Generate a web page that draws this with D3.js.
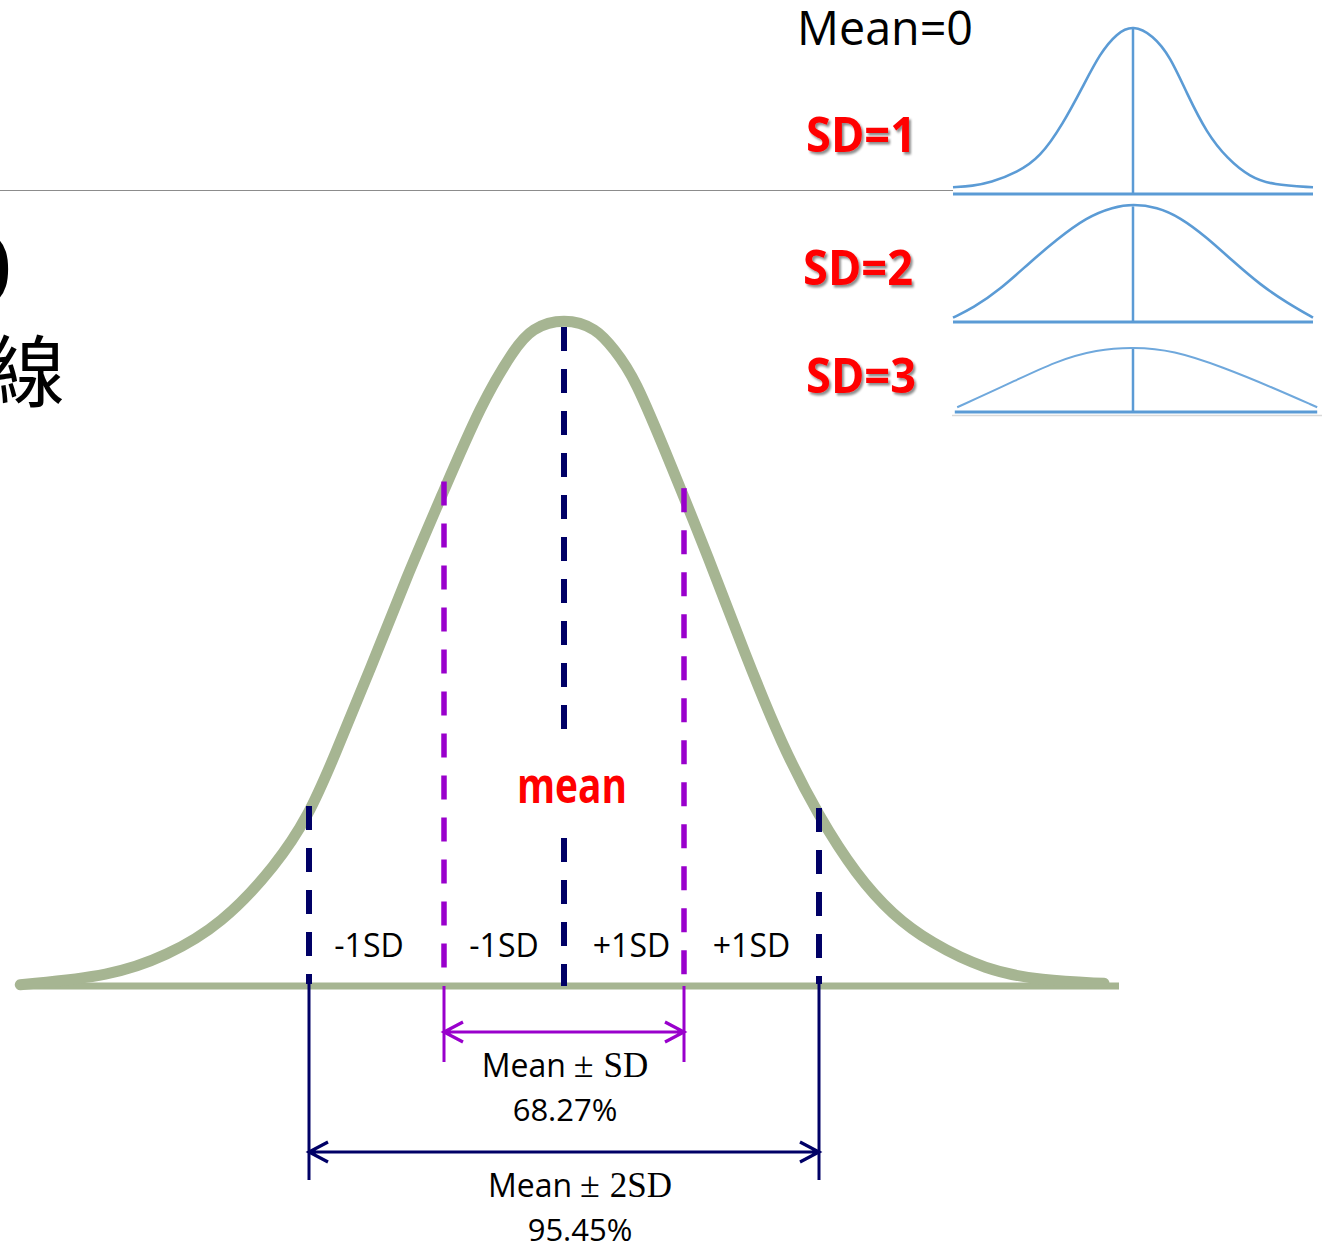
<!DOCTYPE html>
<html>
<head>
<meta charset="utf-8">
<script src="https://cdn.jsdelivr.net/npm/d3@7"></script>
<style>
  body { margin: 0; background: #fff; }
  svg { display: block; }
</style>
</head>
<body>
<div class="container"></div>
<script>
// big bell curve (z in curve units, h relative to the peak)
var mainZ = [-4.35, -3.62, -3.18, -2.74, -2.30, -2.04, -1.85, -1.55, -1.26, -0.98, -0.66, -0.40, -0.26, 0,
             0.26, 0.40, 0.56, 0.86, 1.15, 1.45, 1.74, 2.04, 2.34, 2.63, 2.93, 3.37, 3.82, 4.32];
var mainH = [0.002, 0.015, 0.045, 0.092, 0.181, 0.256, 0.338, 0.474, 0.612, 0.733, 0.873, 0.953, 0.985, 1.0,
             0.985, 0.953, 0.914, 0.778, 0.644, 0.496, 0.362, 0.253, 0.166, 0.106, 0.065, 0.024, 0.008, 0.004];

// guide lines (mean, +-1SD, +-2SD) and their labels
var guideZ = [-2.04, -0.96, 0, 0.96, 2.04];
var bandLabels = ["-1SD", "-1SD", "+1SD", "+1SD"];
var bandLabelZ = [-1.56, -0.48, 0.54, 1.5];
var meanLabel = "mean";
var rangeHalf = [0.96, 2.04];
var rangeSD = ["SD", "2SD"];
var rangePct = ["68.27%", "95.45%"];

// the three small curves top right
var headLabel = "Mean=0";
var sdLabels = ["SD=1", "SD=2", "SD=3"];
var sd1Z = [-3, -2.67, -2.38, -1.93, -1.55, -1.17, -0.83, -0.55, -0.27, 0, 0.33, 0.62, 0.9, 1.23, 1.57, 1.95, 2.33, 3];
var sd1H = [0.04, 0.048, 0.066, 0.128, 0.216, 0.413, 0.64, 0.832, 0.952, 1, 0.94, 0.814, 0.593, 0.36, 0.21, 0.10, 0.054, 0.04];
var sd2Z = [-3, -2.67, -2.22, -1.72, -1.27, -0.77, -0.33, 0, 0.4, 0.78, 1.23, 1.67, 2.12, 2.57, 3];
var sd2H = [0.037, 0.117, 0.274, 0.504, 0.70, 0.889, 0.974, 1, 0.974, 0.889, 0.718, 0.513, 0.316, 0.162, 0.037];
var sd3Z = [-2.93, -2.1, -1.27, -0.6, 0, 0.67, 1.5, 2.33, 3.07];
var sd3H = [0.073, 0.42, 0.79, 0.96, 1, 0.95, 0.69, 0.375, 0.073];

const WIDTH = 1326;
const HEIGHT = 1244;
const GREEN = "#a6b592";
const NAVY = "#000066";
const PURPLE = "#9900cc";
const BLUE = "#5b9bd5";
const RED = "#ff0000";
const SANS = "'Open Sans', 'Noto Sans', sans-serif";
const SERIF = "'Liberation Serif', 'DejaVu Serif', serif";

var svg = d3.select('.container').append('svg')
  .attr('width', WIDTH)
  .attr('height', HEIGHT);

var shadow = svg.append('defs').append('filter')
  .attr('id', 'shadow')
  .attr('x', '-10%').attr('y', '-20%')
  .attr('width', '130%').attr('height', '150%');
shadow.append('feDropShadow')
  .attr('dx', 2).attr('dy', 2.5)
  .attr('stdDeviation', 1.3)
  .attr('flood-color', '#000')
  .attr('flood-opacity', 0.45);

// slide leftovers on the left
svg.append('line')
  .attr('x1', 0).attr('x2', 953)
  .attr('y1', 190.5).attr('y2', 190.5)
  .attr('stroke', '#8c8c8c')
  .attr('stroke-width', 1.2);

svg.append('text')
  .attr('x', 12).attr('y', 290)
  .attr('text-anchor', 'end')
  .style('font-family', SERIF)
  .style('font-weight', 'bold')
  .style('font-size', '86px')
  .text(')');

svg.append('text')
  .attr('x', -13).attr('y', 401)
  .style('font-family', "'Noto Sans CJK TC', sans-serif")
  .style('font-size', '78px')
  .text('線');

// ---------- big curve ----------
var xScale = d3.scaleLinear().domain([-4.4, 4.4]).range([14, 1114]);
var yScale = d3.scaleLinear().domain([0, 1]).range([986, 318]);
var heightAt = d3.scaleLinear().domain(mainZ).range(mainH);
var BASE = yScale(0);

svg.append('line')
  .attr('x1', xScale(-4.35)).attr('x2', xScale(4.44))
  .attr('y1', BASE).attr('y2', BASE)
  .attr('stroke', GREEN)
  .attr('stroke-width', 7);

var line = d3.line()
  .x(function (d) { return xScale(d[0]); })
  .y(function (d) { return yScale(d[1]); })
  .curve(d3.curveBasis);

svg.append('path')
  .attr('d', line(d3.zip(mainZ, mainH)))
  .attr('fill', 'none')
  .attr('stroke', GREEN)
  .attr('stroke-width', 11)
  .attr('stroke-linecap', 'round');

var dashed = function (x, y1, y2, color, w) {
  svg.append('line')
    .attr('x1', x).attr('x2', x)
    .attr('y1', y1).attr('y2', y2)
    .attr('stroke', color)
    .attr('stroke-width', w)
    .attr('stroke-dasharray', '24,18');
};

guideZ.forEach(function (z) {
  var x = xScale(z);
  if (z === 0) {
    dashed(x, 327, 735, NAVY, 6);
    dashed(x, 838, BASE, NAVY, 6);
    return;
  }
  var inner = Math.abs(z) < 1.5;
  var color = inner ? PURPLE : NAVY;
  dashed(x, yScale(heightAt(z)) - 9, BASE - 2, color, inner ? 5.5 : 6);
  svg.append('line')
    .attr('x1', x).attr('x2', x)
    .attr('y1', inner ? BASE : BASE - 8)
    .attr('y2', inner ? 1062 : 1180)
    .attr('stroke', color)
    .attr('stroke-width', 3);
});

svg.selectAll('.band').data(bandLabels)
  .enter().append('text')
  .classed('band', true)
  .attr('x', function (d, i) { return xScale(bandLabelZ[i]); })
  .attr('y', 957)
  .attr('text-anchor', 'middle')
  .style('font-family', SANS)
  .style('font-size', '32px')
  .text(function (d) { return d; });

svg.append('text')
  .attr('x', xScale(0) + 8).attr('y', 803)
  .attr('text-anchor', 'middle')
  .attr('textLength', 110)
  .attr('lengthAdjust', 'spacingAndGlyphs')
  .style('font-family', SANS)
  .style('font-weight', 'bold')
  .style('font-size', '48px')
  .attr('fill', RED)
  .text(meanLabel);

// range arrows + their captions
var rangeLayout = [
  { y: 1032, color: PURPLE, cx: 565, t1: 1077, t2: 1121 },
  { y: 1152, color: NAVY, cx: 580, t1: 1197, t2: 1241 }
];

rangeHalf.forEach(function (h, i) {
  var L = rangeLayout[i];
  var x1 = xScale(-h), x2 = xScale(h);
  svg.append('path')
    .attr('d', 'M' + x1 + ',' + L.y + 'H' + x2 +
      'M' + (x1 + 19) + ',' + (L.y - 10) + 'L' + x1 + ',' + L.y + 'L' + (x1 + 19) + ',' + (L.y + 10) +
      'M' + (x2 - 19) + ',' + (L.y - 10) + 'L' + x2 + ',' + L.y + 'L' + (x2 - 19) + ',' + (L.y + 10))
    .attr('fill', 'none')
    .attr('stroke', L.color)
    .attr('stroke-width', 3.2);

  var t = svg.append('text')
    .attr('x', L.cx).attr('y', L.t1)
    .attr('text-anchor', 'middle')
    .style('font-size', '32px');
  t.append('tspan').style('font-family', SANS).text('Mean');
  t.append('tspan').attr('dx', 8).style('font-family', SERIF).style('font-size', '36px').text('\u00b1');
  t.append('tspan').attr('dx', 10).style('font-family', SERIF).style('font-size', '35px').text(rangeSD[i]);

  svg.append('text')
    .attr('x', L.cx).attr('y', L.t2)
    .attr('text-anchor', 'middle')
    .style('font-family', SANS)
    .style('font-size', '31px')
    .text(rangePct[i]);
});

// ---------- small curves, top right ----------
var smallX = d3.scaleLinear().domain([-3, 3]).range([953, 1313]);
var panels = [
  { z: sd1Z, h: sd1H, base: 194, peak: 25, from: -3, to: 3, w: 2.6, color: BLUE, lx: 806, ly: 152 },
  { z: sd2Z, h: sd2H, base: 322, peak: 204, from: -3, to: 3, w: 2.6, color: BLUE, lx: 803, ly: 285 },
  { z: sd3Z, h: sd3H, base: 412, peak: 347, from: -2.97, to: 3.07, w: 2, color: '#6fa8dc', lx: 806, ly: 393 }
];

svg.append('text')
  .attr('x', 797).attr('y', 45)
  .attr('textLength', 176)
  .attr('lengthAdjust', 'spacingAndGlyphs')
  .style('font-family', SANS)
  .style('font-size', '47px')
  .text(headLabel);

panels.forEach(function (p, i) {
  var py = d3.scaleLinear().domain([0, 1]).range([p.base, p.peak]);
  var small = d3.line()
    .x(function (d) { return smallX(d[0]); })
    .y(function (d) { return py(d[1]); })
    .curve(d3.curveBasis);

  svg.append('line')
    .attr('x1', smallX(p.from)).attr('x2', smallX(p.to))
    .attr('y1', p.base).attr('y2', p.base)
    .attr('stroke', BLUE)
    .attr('stroke-width', 3);
  svg.append('line')
    .attr('x1', smallX(0)).attr('x2', smallX(0))
    .attr('y1', py(0.98)).attr('y2', p.base)
    .attr('stroke', BLUE)
    .attr('stroke-width', 2.5);
  svg.append('path')
    .attr('d', small(d3.zip(p.z, p.h)))
    .attr('fill', 'none')
    .attr('stroke', p.color)
    .attr('stroke-width', p.w);

  svg.append('text')
    .attr('x', p.lx).attr('y', p.ly)
    .attr('textLength', 110)
    .attr('lengthAdjust', 'spacingAndGlyphs')
    .attr('fill', RED)
    .attr('filter', 'url(#shadow)')
    .style('font-family', SANS)
    .style('font-weight', 'bold')
    .style('font-size', '49px')
    .text(sdLabels[i]);
});

svg.append('line')
  .attr('x1', 952).attr('x2', 1322)
  .attr('y1', 415.5).attr('y2', 415.5)
  .attr('stroke', '#d9d9d9')
  .attr('stroke-width', 1.5);
</script>
</body>
</html>
